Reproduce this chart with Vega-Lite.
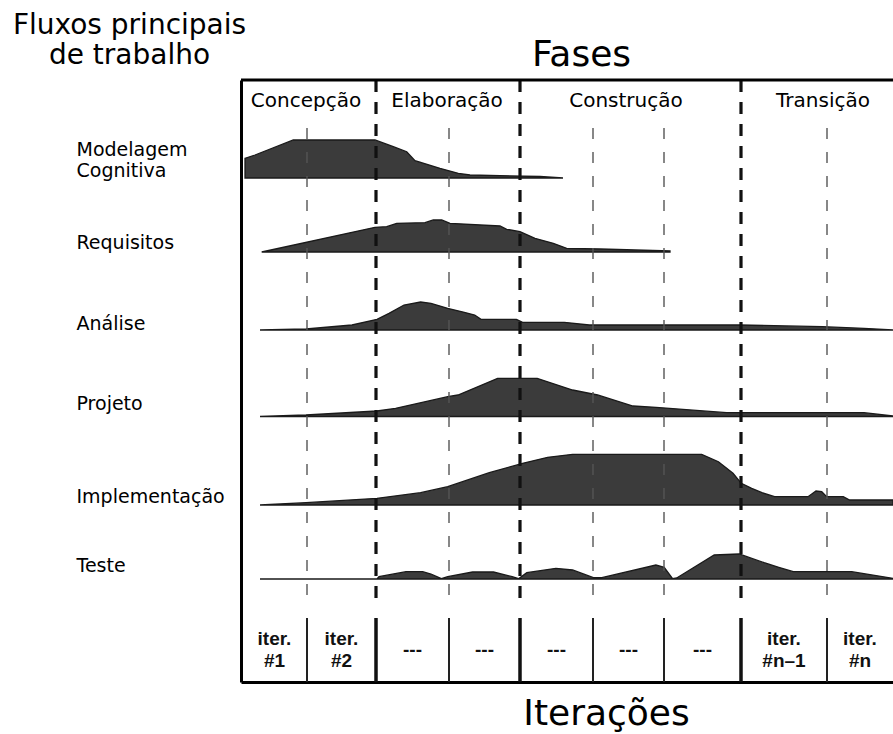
{
  "$schema": "https://vega.github.io/schema/vega-lite/v6.json",
  "width": 652,
  "height": 602,
  "autosize": {"type": "none"},
  "padding": {"left": 241, "top": 80, "right": 0, "bottom": 52},
  "background": "white",
  "config": {"view": {"stroke": null}},
  "datasets": {
    "fluxos": [
      {"fluxo": "Modelagem Cognitiva", "t": 4, "lo": 504, "hi": 523.7},
      {"fluxo": "Modelagem Cognitiva", "t": 14, "lo": 504, "hi": 527},
      {"fluxo": "Modelagem Cognitiva", "t": 52.3, "lo": 504, "hi": 542},
      {"fluxo": "Modelagem Cognitiva", "t": 134, "lo": 504, "hi": 542},
      {"fluxo": "Modelagem Cognitiva", "t": 152.3, "lo": 504, "hi": 535.3},
      {"fluxo": "Modelagem Cognitiva", "t": 165.7, "lo": 504, "hi": 530.3},
      {"fluxo": "Modelagem Cognitiva", "t": 174, "lo": 504, "hi": 521.3},
      {"fluxo": "Modelagem Cognitiva", "t": 199, "lo": 504, "hi": 513.7},
      {"fluxo": "Modelagem Cognitiva", "t": 217.3, "lo": 504, "hi": 508.7},
      {"fluxo": "Modelagem Cognitiva", "t": 229, "lo": 504, "hi": 507},
      {"fluxo": "Modelagem Cognitiva", "t": 299, "lo": 504, "hi": 505.5},
      {"fluxo": "Modelagem Cognitiva", "t": 322, "lo": 504, "hi": 504},

      {"fluxo": "Requisitos", "t": 20.7, "lo": 430, "hi": 430},
      {"fluxo": "Requisitos", "t": 134, "lo": 430, "hi": 454.7},
      {"fluxo": "Requisitos", "t": 145.7, "lo": 430, "hi": 455.3},
      {"fluxo": "Requisitos", "t": 155.7, "lo": 430, "hi": 458.7},
      {"fluxo": "Requisitos", "t": 184, "lo": 430, "hi": 459.3},
      {"fluxo": "Requisitos", "t": 192.3, "lo": 430, "hi": 462},
      {"fluxo": "Requisitos", "t": 200.7, "lo": 430, "hi": 462},
      {"fluxo": "Requisitos", "t": 209, "lo": 430, "hi": 458.7},
      {"fluxo": "Requisitos", "t": 259, "lo": 430, "hi": 456},
      {"fluxo": "Requisitos", "t": 265.7, "lo": 430, "hi": 452.7},
      {"fluxo": "Requisitos", "t": 279, "lo": 430, "hi": 450.3},
      {"fluxo": "Requisitos", "t": 294, "lo": 430, "hi": 443.7},
      {"fluxo": "Requisitos", "t": 312.3, "lo": 430, "hi": 438.7},
      {"fluxo": "Requisitos", "t": 325.7, "lo": 430, "hi": 433.7},
      {"fluxo": "Requisitos", "t": 359, "lo": 430, "hi": 433},
      {"fluxo": "Requisitos", "t": 429, "lo": 430, "hi": 431},

      {"fluxo": "Análise", "t": 19, "lo": 352, "hi": 352},
      {"fluxo": "Análise", "t": 65, "lo": 352, "hi": 353},
      {"fluxo": "Análise", "t": 111, "lo": 352, "hi": 357},
      {"fluxo": "Análise", "t": 136, "lo": 352, "hi": 362.7},
      {"fluxo": "Análise", "t": 148, "lo": 352, "hi": 368.7},
      {"fluxo": "Análise", "t": 163, "lo": 352, "hi": 377},
      {"fluxo": "Análise", "t": 179.6, "lo": 352, "hi": 380},
      {"fluxo": "Análise", "t": 190, "lo": 352, "hi": 378.7},
      {"fluxo": "Análise", "t": 206.7, "lo": 352, "hi": 373.7},
      {"fluxo": "Análise", "t": 223.3, "lo": 352, "hi": 369.7},
      {"fluxo": "Análise", "t": 233.7, "lo": 352, "hi": 367},
      {"fluxo": "Análise", "t": 240, "lo": 352, "hi": 362.7},
      {"fluxo": "Análise", "t": 275.4, "lo": 352, "hi": 362.7},
      {"fluxo": "Análise", "t": 281.6, "lo": 352, "hi": 359.7},
      {"fluxo": "Análise", "t": 323.3, "lo": 352, "hi": 359.7},
      {"fluxo": "Análise", "t": 348.3, "lo": 352, "hi": 357},
      {"fluxo": "Análise", "t": 498, "lo": 352, "hi": 357},
      {"fluxo": "Análise", "t": 581.5, "lo": 352, "hi": 355.3},
      {"fluxo": "Análise", "t": 623, "lo": 352, "hi": 353.7},
      {"fluxo": "Análise", "t": 652, "lo": 352, "hi": 352},

      {"fluxo": "Projeto", "t": 19, "lo": 265.5, "hi": 265.5},
      {"fluxo": "Projeto", "t": 65, "lo": 265.5, "hi": 267},
      {"fluxo": "Projeto", "t": 136, "lo": 265.5, "hi": 271},
      {"fluxo": "Projeto", "t": 154.6, "lo": 265.5, "hi": 273.7},
      {"fluxo": "Projeto", "t": 206.7, "lo": 265.5, "hi": 285.3},
      {"fluxo": "Projeto", "t": 217, "lo": 265.5, "hi": 287},
      {"fluxo": "Projeto", "t": 256.6, "lo": 265.5, "hi": 303.7},
      {"fluxo": "Projeto", "t": 296.2, "lo": 265.5, "hi": 303.7},
      {"fluxo": "Projeto", "t": 331.6, "lo": 265.5, "hi": 292},
      {"fluxo": "Projeto", "t": 356.6, "lo": 265.5, "hi": 287},
      {"fluxo": "Projeto", "t": 392, "lo": 265.5, "hi": 276},
      {"fluxo": "Projeto", "t": 415, "lo": 265.5, "hi": 274.7},
      {"fluxo": "Projeto", "t": 485.7, "lo": 265.5, "hi": 269.3},
      {"fluxo": "Projeto", "t": 623, "lo": 265.5, "hi": 269.3},
      {"fluxo": "Projeto", "t": 652, "lo": 265.5, "hi": 266},

      {"fluxo": "Implementação", "t": 19, "lo": 177, "hi": 177},
      {"fluxo": "Implementação", "t": 65, "lo": 177, "hi": 179.3},
      {"fluxo": "Implementação", "t": 136, "lo": 177, "hi": 183.7},
      {"fluxo": "Implementação", "t": 179.6, "lo": 177, "hi": 189.3},
      {"fluxo": "Implementação", "t": 206.7, "lo": 177, "hi": 195.3},
      {"fluxo": "Implementação", "t": 248.3, "lo": 177, "hi": 209.3},
      {"fluxo": "Implementação", "t": 281.6, "lo": 177, "hi": 218.7},
      {"fluxo": "Implementação", "t": 306.6, "lo": 177, "hi": 224.7},
      {"fluxo": "Implementação", "t": 331.6, "lo": 177, "hi": 227.7},
      {"fluxo": "Implementação", "t": 460.7, "lo": 177, "hi": 227.7},
      {"fluxo": "Implementação", "t": 477.4, "lo": 177, "hi": 220.3},
      {"fluxo": "Implementação", "t": 492, "lo": 177, "hi": 208.7},
      {"fluxo": "Implementação", "t": 500.3, "lo": 177, "hi": 198.7},
      {"fluxo": "Implementação", "t": 510.7, "lo": 177, "hi": 193.7},
      {"fluxo": "Implementação", "t": 521, "lo": 177, "hi": 189.3},
      {"fluxo": "Implementação", "t": 533.6, "lo": 177, "hi": 185.3},
      {"fluxo": "Implementação", "t": 567, "lo": 177, "hi": 185.3},
      {"fluxo": "Implementação", "t": 575, "lo": 177, "hi": 191},
      {"fluxo": "Implementação", "t": 580.7, "lo": 177, "hi": 190.3},
      {"fluxo": "Implementação", "t": 585.7, "lo": 177, "hi": 185.3},
      {"fluxo": "Implementação", "t": 602.3, "lo": 177, "hi": 185.3},
      {"fluxo": "Implementação", "t": 608.6, "lo": 177, "hi": 182},
      {"fluxo": "Implementação", "t": 652, "lo": 177, "hi": 182},

      {"fluxo": "Teste", "t": 19, "lo": 103, "hi": 103},
      {"fluxo": "Teste", "t": 136, "lo": 103, "hi": 103},
      {"fluxo": "Teste", "t": 138, "lo": 103, "hi": 105.3},
      {"fluxo": "Teste", "t": 165, "lo": 103, "hi": 110.3},
      {"fluxo": "Teste", "t": 181.7, "lo": 103, "hi": 110.3},
      {"fluxo": "Teste", "t": 190, "lo": 103, "hi": 108},
      {"fluxo": "Teste", "t": 200.4, "lo": 103, "hi": 103.3},
      {"fluxo": "Teste", "t": 206.7, "lo": 103, "hi": 105.3},
      {"fluxo": "Teste", "t": 231.6, "lo": 103, "hi": 110},
      {"fluxo": "Teste", "t": 252.5, "lo": 103, "hi": 110},
      {"fluxo": "Teste", "t": 271.2, "lo": 103, "hi": 105.3},
      {"fluxo": "Teste", "t": 277.5, "lo": 103, "hi": 103.3},
      {"fluxo": "Teste", "t": 285.8, "lo": 103, "hi": 109.3},
      {"fluxo": "Teste", "t": 314.9, "lo": 103, "hi": 113.7},
      {"fluxo": "Teste", "t": 331.6, "lo": 103, "hi": 112},
      {"fluxo": "Teste", "t": 352.4, "lo": 103, "hi": 104.3},
      {"fluxo": "Teste", "t": 360.8, "lo": 103, "hi": 104.3},
      {"fluxo": "Teste", "t": 414.9, "lo": 103, "hi": 117},
      {"fluxo": "Teste", "t": 423.2, "lo": 103, "hi": 114.7},
      {"fluxo": "Teste", "t": 431.6, "lo": 103, "hi": 103.3},
      {"fluxo": "Teste", "t": 435.7, "lo": 103, "hi": 104},
      {"fluxo": "Teste", "t": 473.2, "lo": 103, "hi": 127},
      {"fluxo": "Teste", "t": 498.2, "lo": 103, "hi": 128},
      {"fluxo": "Teste", "t": 523.2, "lo": 103, "hi": 119.3},
      {"fluxo": "Teste", "t": 537.8, "lo": 103, "hi": 114.7},
      {"fluxo": "Teste", "t": 552.3, "lo": 103, "hi": 110.3},
      {"fluxo": "Teste", "t": 610.7, "lo": 103, "hi": 110.3},
      {"fluxo": "Teste", "t": 652, "lo": 103, "hi": 103.7}
    ],
    "limites": [
      {"t": 135, "tipo": "fase"},
      {"t": 279, "tipo": "fase"},
      {"t": 500, "tipo": "fase"},
      {"t": 66, "tipo": "iter"},
      {"t": 208, "tipo": "iter"},
      {"t": 352, "tipo": "iter"},
      {"t": 423, "tipo": "iter"},
      {"t": 586, "tipo": "iter"}
    ],
    "fases": [
      {"fase": "Concepção", "centro": 65},
      {"fase": "Elaboração", "centro": 206},
      {"fase": "Construção", "centro": 385},
      {"fase": "Transição", "centro": 582}
    ],
    "iteracoes": [
      {"rotulo": "iter.\n#1", "centro": 33.5, "nomeada": true},
      {"rotulo": "iter.\n#2", "centro": 100.5, "nomeada": true},
      {"rotulo": "---", "centro": 171.5, "nomeada": false},
      {"rotulo": "---", "centro": 243.5, "nomeada": false},
      {"rotulo": "---", "centro": 315.5, "nomeada": false},
      {"rotulo": "---", "centro": 387.5, "nomeada": false},
      {"rotulo": "---", "centro": 461.5, "nomeada": false},
      {"rotulo": "iter.\n#n–1", "centro": 543, "nomeada": true},
      {"rotulo": "iter.\n#n", "centro": 619, "nomeada": true}
    ]
  },
  "layer": [
    {
      "data": {"name": "fluxos"},
      "mark": {"type": "area", "interpolate": "linear", "fill": "#3b3b3b", "stroke": "#1a1a1a", "strokeWidth": 1.3, "fillOpacity": 1},
      "encoding": {
        "x": {
          "field": "t", "type": "quantitative",
          "scale": {"domain": [0, 652], "nice": false, "zero": false},
          "axis": {
            "domain": true, "domainColor": "black", "domainWidth": 3,
            "ticks": false, "labels": false, "grid": false,
            "title": "Iterações", "titleFont": "DejaVu Sans", "titleFontSize": 36, "titleFontWeight": "normal",
            "titleColor": "black", "titleX": 365, "titleY": 42, "titleAlign": "center", "titleBaseline": "alphabetic"
          }
        },
        "y": {
          "field": "hi", "type": "quantitative",
          "scale": {"domain": [0, 602], "nice": false, "zero": false},
          "axis": {
            "values": [533, 440, 359, 279, 186, 117],
            "labelExpr": "datum.value == 533 ? ['Modelagem', 'Cognitiva'] : datum.value == 440 ? 'Requisitos' : datum.value == 359 ? 'Análise' : datum.value == 279 ? 'Projeto' : datum.value == 186 ? 'Implementação' : 'Teste'",
            "domain": true, "domainColor": "black", "domainWidth": 3,
            "ticks": false, "tickSize": 0, "grid": false,
            "labelAlign": "left", "labelBaseline": "middle", "labelPadding": 165,
            "labelFont": "DejaVu Sans", "labelFontSize": 19, "labelColor": "black", "labelLineHeight": 21,
            "labelLimit": 400, "labelOverlap": false,
            "title": ["Fluxos principais", "de trabalho"], "titleAngle": 0, "titleX": -112, "titleY": -47,
            "titleAlign": "center", "titleBaseline": "alphabetic", "titleFont": "DejaVu Sans", "titleFontSize": 28,
            "titleFontWeight": "normal", "titleLineHeight": 30, "titleColor": "black", "titleLimit": 400
          }
        },
        "y2": {"field": "lo"},
        "detail": {"field": "fluxo", "type": "nominal"}
      }
    },
    {
      "data": {"name": "limites"},
      "transform": [{"filter": "datum.tipo == 'fase'"}],
      "mark": {"type": "rule", "color": "#111111", "strokeWidth": 3.2, "strokeDash": [12, 10]},
      "encoding": {
        "x": {"field": "t", "type": "quantitative"},
        "y": {"datum": 602, "type": "quantitative"},
        "y2": {"datum": 82}
      }
    },
    {
      "data": {"name": "limites"},
      "transform": [{"filter": "datum.tipo == 'iter'"}],
      "mark": {"type": "rule", "color": "#555555", "strokeWidth": 1.4, "strokeDash": [11, 13]},
      "encoding": {
        "x": {"field": "t", "type": "quantitative"},
        "y": {"datum": 554, "type": "quantitative"},
        "y2": {"datum": 82}
      }
    },
    {
      "data": {"name": "limites"},
      "transform": [{"filter": "datum.tipo == 'fase'"}],
      "mark": {"type": "rule", "color": "#111111", "strokeWidth": 3.5},
      "encoding": {
        "x": {"field": "t", "type": "quantitative"},
        "y": {"datum": 64, "type": "quantitative"},
        "y2": {"datum": 0}
      }
    },
    {
      "data": {"name": "limites"},
      "transform": [{"filter": "datum.tipo == 'iter'"}],
      "mark": {"type": "rule", "color": "#222222", "strokeWidth": 2},
      "encoding": {
        "x": {"field": "t", "type": "quantitative"},
        "y": {"datum": 64, "type": "quantitative"},
        "y2": {"datum": 0}
      }
    },
    {
      "data": {"values": [{"borda": "topo"}]},
      "mark": {"type": "rule", "color": "black", "strokeWidth": 3},
      "encoding": {
        "y": {"datum": 602, "type": "quantitative"}
      }
    },
    {
      "data": {"name": "fases"},
      "mark": {"type": "text", "font": "DejaVu Sans", "fontSize": 20, "color": "black", "align": "center", "baseline": "alphabetic"},
      "encoding": {
        "x": {"field": "centro", "type": "quantitative"},
        "y": {"datum": 575, "type": "quantitative"},
        "text": {"field": "fase"}
      }
    },
    {
      "data": {"name": "iteracoes"},
      "transform": [{"filter": "datum.nomeada"}],
      "mark": {"type": "text", "font": "Liberation Sans", "fontWeight": "bold", "fontSize": 19, "lineHeight": 22, "lineBreak": "\n", "color": "#111111", "align": "center", "baseline": "middle"},
      "encoding": {
        "x": {"field": "centro", "type": "quantitative"},
        "y": {"datum": 43, "type": "quantitative"},
        "text": {"field": "rotulo"}
      }
    },
    {
      "data": {"name": "iteracoes"},
      "transform": [{"filter": "!datum.nomeada"}],
      "mark": {"type": "text", "font": "Liberation Sans", "fontWeight": "bold", "fontSize": 19, "color": "#111111", "align": "center", "baseline": "middle"},
      "encoding": {
        "x": {"field": "centro", "type": "quantitative"},
        "y": {"datum": 32, "type": "quantitative"},
        "text": {"field": "rotulo"}
      }
    },
    {
      "data": {"values": [{"titulo": "Fases"}]},
      "mark": {"type": "text", "font": "DejaVu Sans", "fontSize": 36, "color": "black", "align": "center", "baseline": "alphabetic"},
      "encoding": {
        "x": {"datum": 340.5, "type": "quantitative"},
        "y": {"datum": 616, "type": "quantitative"},
        "text": {"field": "titulo"}
      }
    }
  ]
}
